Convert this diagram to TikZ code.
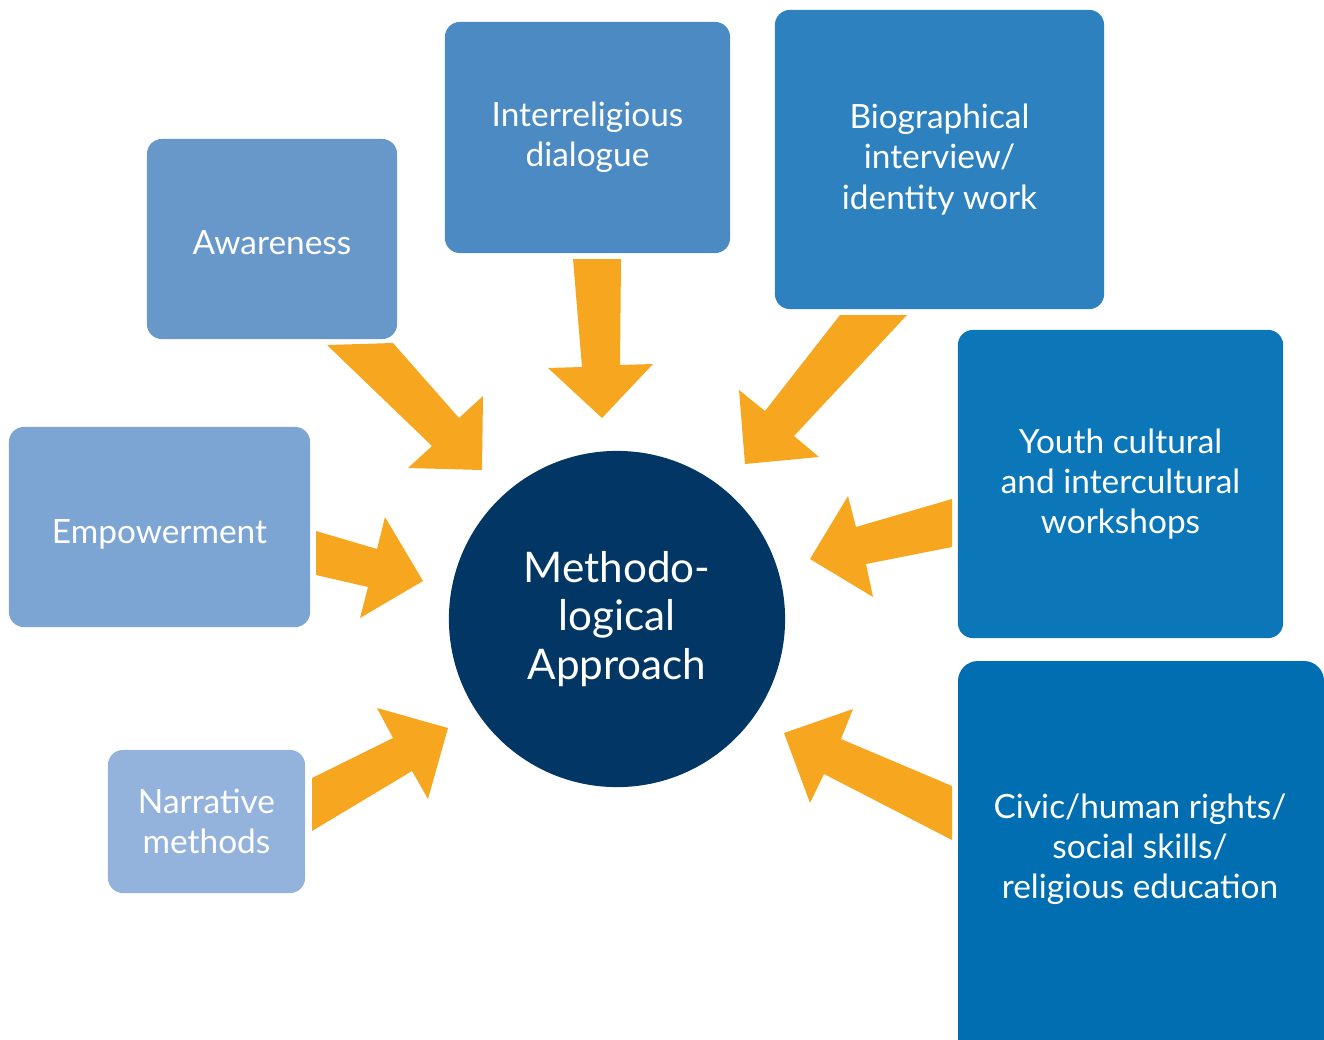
\documentclass[tikz,border=0pt]{standalone}
\usepackage{fontspec}
\setmainfont{Lato}
\usetikzlibrary{positioning}

\definecolor{awarecol}{HTML}{6897C9}
\definecolor{dialogcol}{HTML}{4B8AC3}
\definecolor{biocol}{HTML}{2D81BE}
\definecolor{empowcol}{HTML}{7CA5D4}
\definecolor{narrcol}{HTML}{94B3DC}
\definecolor{youthcol}{HTML}{0B77B9}
\definecolor{civiccol}{HTML}{006EB1}
\definecolor{corecol}{HTML}{023664}
\definecolor{arrowcol}{HTML}{F7A71F}

\begin{document}
\begin{tikzpicture}[x=0.01cm,y=-0.01cm]
        \tikzstyle{box}=[rectangle,rounded corners=0.15cm,text=white,align=center,
                         inner sep=0pt,font=\fontsize{9.5}{11.4}\selectfont]
        \tikzstyle{core}=[circle,fill=corecol,text=white,align=center,inner sep=0pt,
                          minimum size=3.36cm,font=\fontsize{12}{13.7}\selectfont]
        \tikzstyle{blockarrow}=[fill=arrowcol]

        \useasboundingbox (0,0) rectangle (1324,1039);
        \clip (0,0) rectangle (1324,1039);

        % the centre
        \node[core]  (C)  at (617,619)   {Methodo-\\logical\\Approach};

        % the boxes round it
        \node[box,fill=awarecol,minimum width=2.50cm,minimum height=2.00cm,
              text height=0.30cm,text depth=0cm]
              (B1) at (272,239)   {Awareness};
        \node[box,fill=dialogcol,minimum width=2.85cm,minimum height=2.31cm]
              (B2) at (587.5,137.5) {Interreligious\\dialogue};
        \node[box,fill=biocol,minimum width=3.29cm,minimum height=2.99cm]
              (B3) at (939.5,159.5) {Biographical\\interview/\\identity work};
        \node[box,fill=empowcol,minimum width=3.01cm,minimum height=2.00cm,
              text height=0.40cm,text depth=0.063cm]
              (B4) at (159.5,527) {Empowerment};
        \node[box,fill=narrcol,minimum width=1.97cm,minimum height=1.43cm]
              (B5) at (206.5,821.5) {Narrative\\methods};
        \node[box,fill=youthcol,minimum width=3.25cm,minimum height=3.08cm]
              (B6) at (1120.5,484) {Youth cultural\\and intercultural\\workshops};
        \fill[civiccol,rounded corners=0.2cm] (958,661) rectangle (1324,1120);
        \node[box]  (B7) at (1140,849) {Civic/human rights/\\social skills/\\religious education};

        % block arrows into the centre
        \fill[blockarrow] (327,345) -- (393,343) -- (459,418) -- (483,396)
                          -- (482,470) -- (408,468) -- (432,446) -- cycle; % B1
        \fill[blockarrow] (573,259) -- (621,259) -- (620,365) -- (653,364)
                          -- (602,418) -- (548,368) -- (582,367) -- cycle; % B2
        \fill[blockarrow] (840,315) -- (907,315) -- (794,436) -- (819,457)
                          -- (745,464) -- (739,390) -- (765,411) -- cycle; % B3
        \fill[blockarrow] (316,531) -- (377,549) -- (385,517) -- (423,581)
                          -- (360,618) -- (368,587) -- (316,575) -- cycle; % B4
        \fill[blockarrow] (312,778) -- (393,738) -- (377,708) -- (448,728)
                          -- (428,799) -- (412,771) -- (312,831) -- cycle; % B5
        \fill[blockarrow] (952,499) -- (856,527) -- (848,496) -- (810,559)
                          -- (873,597) -- (866,564) -- (952,547) -- cycle; % B6
        \fill[blockarrow] (952,786) -- (841,739) -- (853,709) -- (784,733)
                          -- (810,803) -- (824,774) -- (952,840) -- cycle; % B7
\end{tikzpicture}
\end{document}
